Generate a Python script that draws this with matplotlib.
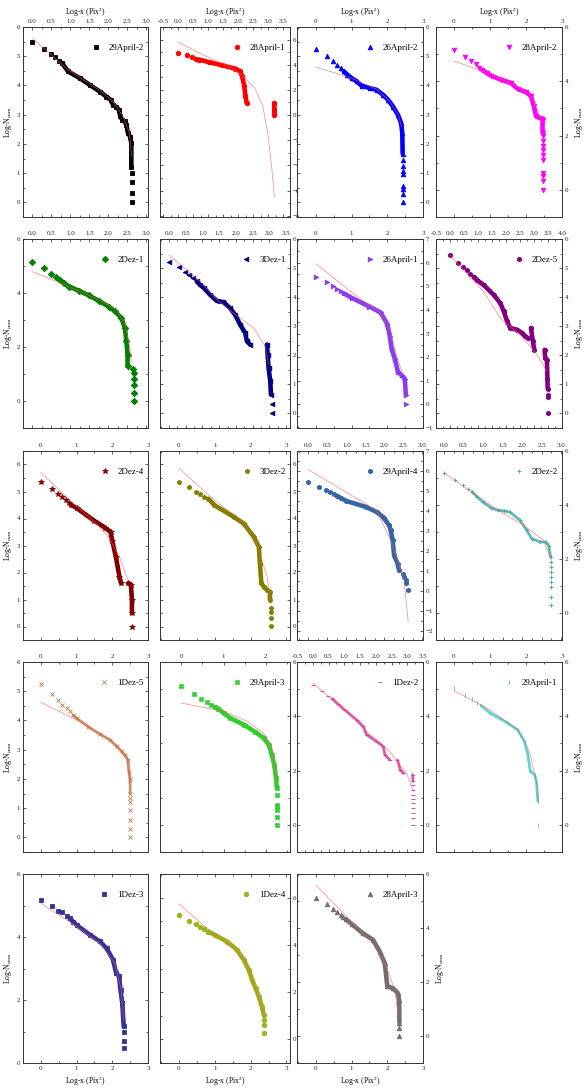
import numpy as np
import matplotlib
matplotlib.use("Agg")
import matplotlib.pyplot as plt
from matplotlib.ticker import MultipleLocator, AutoMinorLocator

plt.rcParams['font.family'] = ['Liberation Serif', 'DejaVu Serif']
plt.rcParams['mathtext.fontset'] = 'stix'

nan = float('nan')

## [values: sparse markers, dense run, fit curve]
apr29_2_pts = [(0, 5.49), (0.3, 5.25), (0.48, 5.07), (0.6, 4.96), (0.7, 4.85),
               (2.62, 1.0), (2.62, 0.69), (2.62, 0.31), (2.62, 0.0)]
apr29_2_band = [(0.78, 4.77), (0.94, 4.48), (1.25, 4.25), (1.51, 4.02), (1.78, 3.79), (1.95, 3.62),
                (2.06, 3.51), (2.13, 3.34), (2.21, 3.26), (2.28, 3.17), (2.32, 2.94), (2.37, 2.82),
                (2.43, 2.77), (2.48, 2.65), (2.52, 2.37), (2.58, 2.25), (2.61, 2.02), (2.61, 1.22)]
apr29_2_fit = [(0, 5.62), (0.94, 4.54), (1.78, 3.83), (2.13, 3.45), (2.39, 2.94), (2.56, 2.37), (2.62, 1.57)]

apr28_1_pts = [(0, 4.94), (0.3, 4.75), (0.48, 4.62), (0.6, 4.49), (3.2, 0.2), (3.2, 0.0)]
apr28_1_band = [(0.7, 4.41), (1.03, 4.2), (1.46, 3.96), (1.9, 3.69), (2.06, 3.48), (2.13, 3.08),
                (2.2, 2.29), (2.24, 1.49), (2.28, 0.96), (nan, nan), (3.2, 0.95), (3.2, 0.4)]
apr28_1_fit = [(0, 5.79), (0.81, 4.81), (1.68, 3.88), (2.11, 3.21), (2.55, 2.15), (2.82, 0.69),
               (2.98, -1.43), (3.11, -4.08), (3.2, -6.47)]

apr26_2_pts = [(0, 5.25), (0.3, 5.02), (0.48, 4.83), (0.6, 4.71), (0.7, 4.6),
               (2.43, 1.44), (2.43, 1.25), (2.43, 1.09), (2.43, 0.98), (2.43, 0.57), (2.43, 0.46),
               (2.43, 0.29), (2.43, 0.0)]
apr26_2_band = [(0.78, 4.48), (0.88, 4.37), (1.0, 4.25), (1.14, 4.14), (1.28, 3.99), (1.51, 3.91),
                (1.7, 3.85), (1.88, 3.68), (2.02, 3.51), (2.16, 3.28), (2.3, 2.99), (2.39, 2.7),
                (2.42, 2.36), (2.43, 1.67)]
apr26_2_fit = [(0, 4.63), (1.0, 4.25), (1.7, 3.87), (2.07, 3.45), (2.3, 3.0), (2.4, 2.6)]

apr28_2_pts = [(0, 5.15), (0.3, 4.9), (0.48, 4.73), (0.6, 4.62), (0.7, 4.5),
               (2.46, 1.97), (2.46, 1.79), (2.46, 1.63), (2.46, 1.46), (2.46, 1.3), (2.46, 1.11),
               (2.46, 0.62), (2.46, 0.5), (2.46, 0.31), (2.46, 0.0)]
apr28_2_band = [(0.78, 4.42), (0.93, 4.29), (1.03, 4.21), (1.3, 4.06), (1.58, 3.94), (1.77, 3.72),
                (2.0, 3.6), (2.14, 3.45), (2.22, 3.08), (2.28, 2.71), (2.38, 2.65), (2.44, 2.62),
                (2.46, 2.59), (2.46, 2.1)]
apr28_2_fit = [(0, 4.74), (1, 4.29), (1.77, 3.8), (2.14, 3.45), (2.3, 3.0), (2.45, 2.5)]

dez2_1_pts = [(0, 5.13), (0.31, 4.92), (0.48, 4.71), (0.61, 4.61), (0.72, 4.49),
              (2.66, 1.2), (2.68, 1.04), (2.68, 0.8), (2.68, 0.61), (2.68, 0.31), (2.68, 0.0)]
dez2_1_band = [(0.82, 4.36), (0.97, 4.24), (1.23, 4.08), (1.49, 3.91), (1.75, 3.71), (2.01, 3.5),
               (2.18, 3.32), (2.35, 3.07), (2.44, 2.7), (2.48, 2.21), (2.51, 1.72), (2.51, 1.29)]
dez2_1_fit = [(0, 4.79), (0.89, 4.28), (1.75, 3.75), (2.22, 3.38), (2.44, 2.83), (2.57, 1.97), (2.61, 1.47)]

dez3_1_pts = [(0, 5.2), (0.3, 5.02), (0.48, 4.86), (0.61, 4.77), (0.71, 4.65), (3.08, 0.31), (3.08, 0.0)]
dez3_1_band = [(0.83, 4.54), (0.93, 4.42), (1.05, 4.31), (1.23, 4.08), (1.43, 3.87), (1.63, 3.83),
               (1.83, 3.62), (1.98, 3.39), (2.13, 3.05), (2.28, 2.77), (2.33, 2.48), (2.43, 2.37),
               (nan, nan), (2.93, 2.37), (2.95, 2.02), (2.98, 1.56), (3.03, 1.11), (3.05, 0.65)]
dez3_1_fit = [(0, 5.45), (0.93, 4.54), (1.43, 3.91), (1.93, 3.45), (2.53, 2.94), (2.88, 2.31), (2.98, 1.68)]

apr26_1_pts = [(0, 5.38), (0.3, 5.16), (0.48, 4.99), (0.6, 4.89), (0.7, 4.78), (2.52, 0.0)]
apr26_1_band = [(0.78, 4.7), (1.0, 4.51), (1.5, 4.14), (1.81, 3.89), (2.0, 3.4), (2.07, 2.91),
                (2.12, 2.35), (2.21, 1.93), (2.3, 1.37), (2.4, 1.23), (2.49, 1.09), (2.52, 0.39)]
apr26_1_fit = [(0, 5.95), (1.14, 4.58), (1.79, 3.89), (2.07, 3.19), (2.26, 2.07), (2.44, 1.23)]

dez2_5_pts = [(0, 5.45), (0.29, 5.19), (0.46, 5.03), (0.61, 4.93), (0.73, 4.81),
              (3.49, 0.65), (3.49, 0.55), (3.49, 0.0)]
dez2_5_band = [(0.85, 4.7), (0.96, 4.59), (1.2, 4.42), (1.56, 4.08), (1.8, 3.79), (1.92, 3.51),
               (2.04, 3.17), (2.15, 2.94), (2.39, 2.88), (2.57, 2.77), (2.69, 2.65), (2.77, 2.6),
               (nan, nan), (2.89, 2.94), (2.96, 2.48), (3.01, 2.19),
               (nan, nan), (3.38, 2.19), (3.4, 1.91), (3.46, 1.85), (3.48, 1.2), (3.49, 0.85)]
dez2_5_fit = [(0, 5.45), (1.2, 4.19), (1.8, 3.28), (2.51, 2.71), (3.11, 2.02), (3.46, 1.45)]

dez2_4_pts = [(0, 5.37), (0.3, 5.1), (0.48, 4.9), (0.6, 4.78), (0.7, 4.67), (0.78, 4.59), (2.55, 0.0)]
dez2_4_band = [(0.85, 4.5), (1.0, 4.39), (1.5, 3.91), (1.8, 3.66), (1.95, 3.5), (2.0, 3.17),
               (2.1, 2.58), (2.2, 1.85), (2.25, 1.6), (nan, nan), (2.45, 1.6), (2.52, 1.55),
               (2.55, 1.0), (2.55, 0.5)]
dez2_4_fit = [(0, 5.7), (1.0, 4.45), (1.6, 3.75), (1.9, 3.3), (2.2, 2.58), (2.44, 1.72)]

dez3_2_pts = [(0, 5.37), (0.29, 5.16), (0.47, 5.0), (0.59, 4.92), (0.7, 4.81),
              (2.58, 0.7), (2.58, 0.52), (2.58, 0.33), (2.58, 0.03)]
dez3_2_band = [(0.82, 4.73), (0.99, 4.49), (1.53, 4.06), (1.81, 3.81), (2.09, 3.32), (2.23, 2.95),
               (2.26, 2.33), (2.3, 1.6), (2.37, 1.47), (2.46, 1.35), (2.54, 1.29), (2.54, 0.98)]
dez3_2_fit = [(0, 5.86), (0.99, 4.67), (1.81, 3.87), (2.18, 3.07), (2.46, 1.84), (2.56, 0.98)]

apr29_4_pts = [(0, 5.45), (0.29, 5.2), (0.46, 5.03), (0.58, 4.93), (0.68, 4.83),
               (2.48, 0.87), (2.52, 0.7), (2.57, 0.53), (2.58, 0.38), (2.63, 0.03)]
apr29_4_band = [(0.76, 4.75), (0.85, 4.65), (1.0, 4.5), (1.52, 4.2), (1.8, 3.95), (1.98, 3.67),
                (2.13, 3.28), (2.17, 3.03), (2.22, 2.53), (2.26, 1.78), (2.35, 1.37), (2.39, 1.03)]
apr29_4_fit = [(0, 6.07), (1.8, 4.03), (2.13, 2.7), (2.39, 1.37), (2.52, 0.53), (2.63, -1.55)]

dez2_2_pts = [(0, 5.19), (0.29, 4.91), (0.48, 4.75), (0.62, 4.59),
              (2.73, 1.89), (2.73, 1.7), (2.73, 1.52), (2.73, 1.33), (2.73, 1.15), (2.75, 0.96),
              (2.75, 0.59), (2.75, 0.28)]
dez2_2_band = [(0.72, 4.5), (0.85, 4.3), (1.0, 4.11), (1.2, 3.9), (1.39, 3.8), (1.55, 3.78),
               (1.69, 3.74), (1.95, 3.43), (2.12, 3.06), (2.25, 2.75), (2.47, 2.63), (2.6, 2.63),
               (2.68, 2.5), (2.73, 2.07)]
dez2_2_fit = [(0, 5.19), (1.39, 3.8), (2.04, 3.25), (2.55, 2.69), (2.73, 2.0)]

dez1_5_pts = [(0, 5.25), (0.32, 4.91), (0.48, 4.69), (0.6, 4.54), (0.72, 4.42), (0.81, 4.31),
              (2.5, 1.35), (2.5, 1.2), (2.5, 0.95), (2.5, 0.6), (2.5, 0.3), (2.5, 0.0)]
dez1_5_band = [(0.9, 4.19), (1.0, 4.08), (1.32, 3.79), (1.65, 3.53), (1.93, 3.34), (2.12, 3.11),
               (2.26, 2.94), (2.35, 2.82), (2.44, 2.65), (2.47, 2.25), (2.5, 2.0), (2.5, 1.5)]
dez1_5_fit = [(0, 4.62), (1.0, 4.02), (1.65, 3.57), (2.12, 3.17), (2.4, 2.71), (2.49, 1.8)]

apr29_3_pts = [(0, 5.1), (0.31, 4.83), (0.48, 4.65), (0.61, 4.52), (0.71, 4.43),
               (2.27, 1.1), (2.27, 0.75), (2.27, 0.65), (2.27, 0.55), (2.27, 0.3), (2.27, 0.0)]
apr29_3_band = [(0.8, 4.34), (0.88, 4.28), (1.0, 4.12), (1.16, 3.93), (1.48, 3.69), (1.75, 3.42),
                (1.95, 3.2), (2.07, 2.95), (2.14, 2.58), (2.2, 2.21), (2.24, 1.72), (2.26, 1.35)]
apr29_3_fit = [(0, 4.49), (1, 4.18), (1.55, 3.82), (1.95, 3.38), (2.14, 2.83), (2.26, 1.72)]

dez1_2_pts = [(0, 5.14), (0.29, 4.92), (0.48, 4.73),
              (3.18, 1.47), (3.18, 1.29), (3.18, 1.1), (3.18, 0.95), (3.18, 0.8), (3.18, 0.62),
              (3.18, 0.43), (3.18, 0.24), (3.18, 0.0)]
dez1_2_band = [(0.62, 4.65), (0.8, 4.45), (1.01, 4.24), (1.39, 3.87), (1.6, 3.63), (1.71, 3.32),
               (2.03, 3.07), (2.24, 2.89), (2.29, 2.58), (2.45, 2.39), (nan, nan), (2.69, 2.39),
               (2.78, 2.02), (2.88, 1.9), (nan, nan), (3.17, 1.85), (3.18, 1.6)]
dez1_2_fit = [(0, 5.22), (1.01, 4.24), (1.71, 3.44), (2.45, 2.7), (2.99, 1.85), (3.2, 1.23)]

apr29_1_pts = [(0, 5.06), (0.3, 4.79), (0.51, 4.63), (0.65, 4.49), (2.33, 0.0)]
apr29_1_band = [(0.75, 4.4), (1.0, 4.12), (1.49, 3.75), (1.77, 3.5), (1.96, 3.07), (2.05, 2.58),
                (2.12, 1.97), (2.24, 1.85), (2.29, 1.6), (2.33, 0.86)]
apr29_1_fit = [(0, 4.94), (1, 4.24), (1.77, 3.5), (2.1, 2.7), (2.31, 1.42), (2.35, 0.86)]

dez1_3_pts = [(0, 5.16), (0.3, 4.97), (0.48, 4.84), (0.6, 4.78), (0.72, 4.67),
              (2.32, 1.0), (2.32, 0.69), (2.32, 0.48)]
dez1_3_band = [(0.81, 4.6), (0.9, 4.49), (1.0, 4.38), (1.37, 4.07), (1.65, 3.86), (1.84, 3.64),
               (2.02, 3.28), (2.11, 2.85), (2.19, 2.75), (2.23, 2.32), (2.28, 1.9), (2.32, 1.16)]
dez1_3_fit = [(0, 5.07), (1, 4.33), (1.65, 3.8), (2.07, 3.17), (2.25, 2.32), (2.32, 1.37)]

dez1_4_pts = [(0, 5.27), (0.29, 5.01), (0.47, 4.87), (0.59, 4.77), (0.7, 4.67),
              (2.37, 0.82), (2.37, 0.61), (2.37, 0.28)]
dez1_4_band = [(0.82, 4.56), (1.0, 4.42), (1.34, 4.14), (1.62, 3.79), (1.81, 3.36), (1.95, 2.94),
               (2.04, 2.52), (2.14, 2.16), (2.23, 1.81), (2.32, 1.38), (2.37, 1.03)]
dez1_4_fit = [(0, 5.73), (1, 4.42), (1.53, 3.86), (1.9, 3.22), (2.18, 1.95), (2.37, 0.96)]

apr28_3_pts = [(0, 5.12), (0.3, 4.88), (0.47, 4.7), (0.6, 4.58), (0.69, 4.48), (0.76, 4.4),
               (2.34, 0.28), (2.34, 0.0)]
apr28_3_band = [(0.84, 4.32), (1.0, 4.15), (1.32, 3.8), (1.6, 3.56), (1.79, 3.12), (1.93, 2.69),
                (2.0, 1.84), (2.16, 1.77), (2.3, 1.58), (2.33, 1.33), (2.34, 0.5)]
apr28_3_fit = [(0, 5.59), (1, 4.23), (1.6, 3.43), (1.97, 2.57), (2.21, 1.7), (2.3, 0.84)]

## [labels, colours, markers and axes ranges per panel]
labels = ["29April-2", "28April-1", "26April-2", "28April-2",
          "2Dez-1", "3Dez-1", "26April-1", "2Dez-5",
          "2Dez-4", "3Dez-2", "29April-4", "2Dez-2",
          "1Dez-5", "29April-3", "1Dez-2", "29April-1",
          "1Dez-3", "1Dez-4", "28April-3"]
series = [(apr29_2_pts, apr29_2_band, apr29_2_fit), (apr28_1_pts, apr28_1_band, apr28_1_fit),
          (apr26_2_pts, apr26_2_band, apr26_2_fit), (apr28_2_pts, apr28_2_band, apr28_2_fit),
          (dez2_1_pts, dez2_1_band, dez2_1_fit), (dez3_1_pts, dez3_1_band, dez3_1_fit),
          (apr26_1_pts, apr26_1_band, apr26_1_fit), (dez2_5_pts, dez2_5_band, dez2_5_fit),
          (dez2_4_pts, dez2_4_band, dez2_4_fit), (dez3_2_pts, dez3_2_band, dez3_2_fit),
          (apr29_4_pts, apr29_4_band, apr29_4_fit), (dez2_2_pts, dez2_2_band, dez2_2_fit),
          (dez1_5_pts, dez1_5_band, dez1_5_fit), (apr29_3_pts, apr29_3_band, apr29_3_fit),
          (dez1_2_pts, dez1_2_band, dez1_2_fit), (apr29_1_pts, apr29_1_band, apr29_1_fit),
          (dez1_3_pts, dez1_3_band, dez1_3_fit), (dez1_4_pts, dez1_4_band, dez1_4_fit),
          (apr28_3_pts, apr28_3_band, apr28_3_fit)]
colors = ['#000000', '#ff0000', '#0000ff', '#ff00ff',
          '#008000', '#000080', '#8a3cf0', '#800080',
          '#800000', '#808000', '#3366a6', '#3aa6a6',
          '#b87840', '#33cc33', '#cc3399', '#33cccc',
          '#333399', '#99b31a', '#707070']
markers = ['s', 'o', '^', 'v', 'D', '<', '>', 'h', '*', 'p', 'h', '+',
           'x', 'X', '_', '|', 's', 'o', '^']
xlims = [(-0.25, 3.05), (-0.6, 3.72), (-0.53, 3.0), (-0.5, 3.0),
         (-0.25, 3.05), (-0.27, 3.62), (-0.53, 3.0), (-0.5, 4.0),
         (-0.5, 3.0), (-0.53, 3.1), (-0.3, 3.02), (-0.2, 3.02),
         (-0.5, 3.0), (-0.5, 2.57), (-0.5, 3.5), (-0.5, 3.0),
         (-0.5, 3.0), (-0.53, 3.1), (-0.53, 3.0)]
ylims = [(-0.5, 6), (-8.1, 7.0), (-0.5, 6), (-1, 6),
         (-1, 6), (-0.5, 6), (-1, 7), (-0.5, 6),
         (-0.5, 6.5), (-0.5, 6.5), (-2.45, 7), (-1, 6),
         (-0.5, 6), (-1, 6), (-1, 6), (-1, 6),
         (0, 6), (-1, 7), (-1, 6)]
xsteps = [0.5, 0.5, 1, 1, 0.5, 0.5, 1, 0.5, 1, 1, 0.5, 0.5, 1, 1, 0.5, 1, 1, 1, 1]
ysteps = [1, 2, 1, 2, 2, 1, 1, 1, 1, 1, 1, 2, 1, 2, 2, 2, 2, 2, 2]

W, H = 586, 1090
col_edges = [(23, 148), (160, 290), (297, 423), (436, 562)]
row_edges = [(27, 217), (239, 428), (451, 640), (662, 852), (874, 1063)]

fig = plt.figure(figsize=(W / 100, H / 100), dpi=100)
ylab = r'Log-N$_{\mathrm{cum}}$'
xlab = r'Log-x (Pix$^{2}$)'
thin = {'+', 'x', '|', '_'}

for i, name in enumerate(labels):
    r, c = divmod(i, 4)
    l, rr = col_edges[c]
    t, b = row_edges[r]
    ax = fig.add_axes([l / W, 1 - b / H, (rr - l) / W, (b - t) / H])
    pts, band, fit = series[i]
    col, mk = colors[i], markers[i]
    ms = 4.2 if mk == '*' else 3.3
    lw_band = 2.0 if mk in thin else 3.3
    alpha = 0.8 if mk in thin else 1.0

    bx, by = np.array(band).T
    ax.plot(bx, by, '-', color=col, lw=lw_band, alpha=alpha, solid_capstyle='round',
            solid_joinstyle='round', zorder=2)
    ax.plot(bx, by, ls='none', marker=mk, ms=ms, color=col, mew=0.6, alpha=alpha, zorder=2)
    px, py = np.array(pts).T
    ax.plot(px, py, ls='none', marker=mk, ms=ms, color=col, mew=0.6, label=name, zorder=2)
    fx, fy = np.array(fit).T
    ax.plot(fx, fy, '-', color='#ff5a5a', lw=0.5, alpha=0.75, zorder=3)

    ax.set_xlim(*xlims[i])
    ax.set_ylim(*ylims[i])
    ax.xaxis.set_major_locator(MultipleLocator(xsteps[i]))
    ax.yaxis.set_major_locator(MultipleLocator(ysteps[i]))
    ax.xaxis.set_minor_locator(AutoMinorLocator(2))
    ax.yaxis.set_minor_locator(AutoMinorLocator(2))
    if xsteps[i] == 0.5:
        ax.xaxis.set_major_formatter(plt.FormatStrFormatter('%.1f'))
    else:
        ax.xaxis.set_major_formatter(plt.FormatStrFormatter('%d'))

    last_row = r == 4
    left_col = c == 0
    ax.tick_params(which='both', direction='in', top=True, bottom=True, left=True, right=True,
                   labeltop=not last_row, labelbottom=last_row,
                   labelleft=left_col, labelright=not left_col,
                   labelsize=5, width=0.5, pad=2, colors='#222222')
    ax.tick_params(which='major', length=2.5)
    ax.tick_params(which='minor', length=1.4)
    for sp in ax.spines.values():
        sp.set_linewidth(0.7)
        sp.set_color('#333333')

    if left_col:
        ax.set_ylabel(ylab, fontsize=5.5, labelpad=2)
    if c == 3 or (last_row and c == 2):
        ax.yaxis.set_label_position('right')
        ax.set_ylabel(ylab, fontsize=5.5, labelpad=3)
    if r == 0:
        ax.xaxis.set_label_position('top')
        ax.set_xlabel(xlab, fontsize=5.5, labelpad=3)
    if last_row:
        ax.set_xlabel(xlab, fontsize=5.5, labelpad=3)

    ax.legend(loc='upper right', bbox_to_anchor=(1.0, 0.935), frameon=False, fontsize=6.5,
              handlelength=0.8, handletextpad=1.0, borderaxespad=0.3, borderpad=0.2)

fig.savefig('out.png', dpi=100)
